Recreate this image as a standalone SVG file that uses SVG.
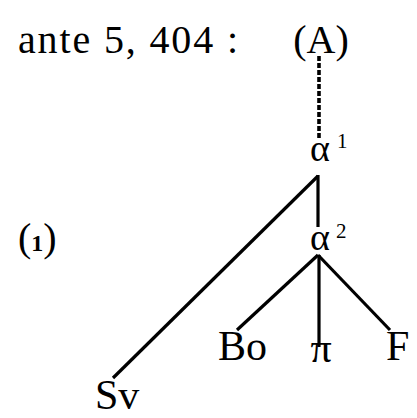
<svg xmlns="http://www.w3.org/2000/svg" width="417" height="418" viewBox="0 0 417 418">
<style>
text{font-family:"Liberation Serif","DejaVu Serif",serif;fill:#000}
.big{font-size:40px}
.lbl{font-size:42px}
.alpha{font-size:38px}
.sup{font-size:21px}
.edge{stroke:#000;stroke-width:3.2;fill:none;stroke-linecap:butt}
.dash{stroke-dasharray:5 2;stroke-width:3.6}
</style>
<rect width="417" height="418" fill="#fff"/>
<g id="caption">
<text class="big" x="18" y="53" textLength="220" lengthAdjust="spacing">ante 5, 404 :</text>
</g>
<g id="label-1">
<text class="big" x="18" y="251">(<tspan font-size="24" font-weight="bold">1</tspan>)</text>
</g>
<g id="connectors">
<line class="edge dash" x1="319" y1="56" x2="319" y2="139"/>
<line class="edge" x1="318" y1="175" x2="318" y2="227"/>
<line class="edge" x1="318" y1="176" x2="113" y2="378"/>
<line class="edge" x1="318" y1="255" x2="237" y2="330"/>
<line class="edge" x1="319" y1="255" x2="319" y2="347"/>
<line class="edge" x1="318" y1="255" x2="390" y2="330"/>
</g>
<g id="node-A">
<text class="big" x="321" y="53" text-anchor="middle">(A)</text>
</g>
<g id="node-alpha1">
<text class="alpha" x="310" y="161">α</text>
<text class="sup" x="337" y="148">1</text>
</g>
<g id="node-alpha2">
<text class="alpha" x="310" y="250">α</text>
<text class="sup" x="336" y="238">2</text>
</g>
<g id="node-Sv">
<text class="lbl" x="95" y="409">Sv</text>
</g>
<g id="node-Bo">
<text class="lbl" x="218" y="360">Bo</text>
</g>
<g id="node-pi">
<text class="lbl" x="321" y="362" text-anchor="middle">π</text>
</g>
<g id="node-F">
<text class="lbl" x="386" y="360">F</text>
</g>
</svg>
